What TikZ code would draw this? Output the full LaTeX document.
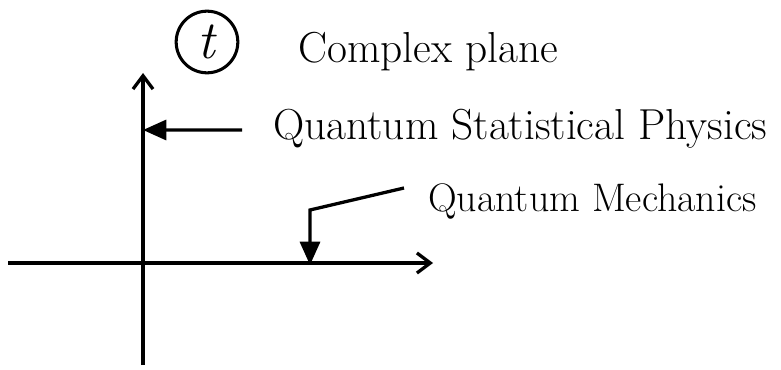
\documentclass[tikz,border=0pt]{standalone}
\usepackage{tikz}
\usetikzlibrary{arrows.meta,positioning}
\tikzset{
  axis/.style={-{Straight Barb[length=4mm,width=6mm]},line width=2.8pt},
  pointer/.style={-{Triangle[length=7mm,width=6mm]},line width=2.8pt},
  note/.style={anchor=base west,inner sep=0pt,font=\fontsize{37}{42}\selectfont}
}
\begin{document}
\begin{tikzpicture}[x=0.03cm,y=-0.03cm]
  \useasboundingbox (0,0) rectangle (781,370);
  \coordinate (reL) at (8,263);
  \coordinate (reR) at (433,263);
  \coordinate (imB) at (143,365);
  \coordinate (imT) at (143,73);
  \draw[axis] (reL) -- (reR);
  \draw[axis] (imB) -- (imT);
  \node[circle,draw,line width=2.6pt,minimum size=1.85cm,inner sep=0pt,
    font=\fontsize{46}{50}\selectfont] (tvar) at (207,42) {\textit{t}};
  \node[note] (title) at (298,63) {Complex plane};
  \node[note] (qsp) at (273,140) {Quantum Statistical Physics};
  \node[note,font=\fontsize{34}{38}\selectfont] (qm) at (428,212) {Quantum Mechanics};
  \coordinate (imQ) at (143,130);
  \coordinate (bend) at (310,210);
  \coordinate (reQ) at (310,265);
  \draw[pointer] ([xshift=-0.93cm,yshift=0.3cm]qsp.base west) -- (imQ);
  \draw[pointer] ([xshift=-0.72cm,yshift=0.72cm]qm.base west) -- (bend) -- (reQ);
\end{tikzpicture}
\end{document}
